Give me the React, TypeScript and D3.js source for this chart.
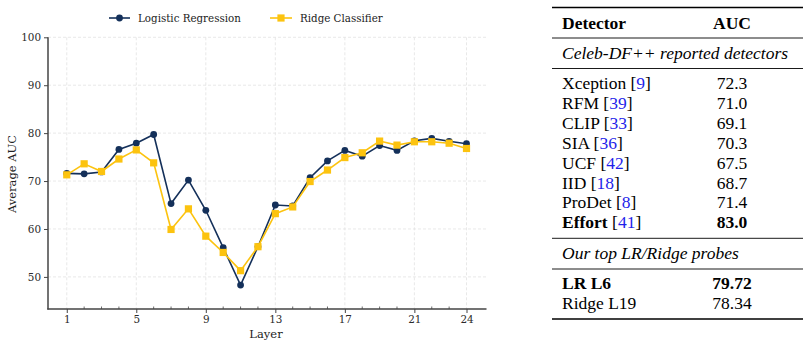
import React, { useEffect, useRef } from "react";
import * as d3 from "d3";

const layers = d3.range(1, 25);
const lrValues = [71.6, 71.5, 71.9, 76.6, 77.9, 79.72, 65.3, 70.2, 63.9, 56.1, 48.3, 56.3, 65.0, 64.8, 70.7, 74.2, 76.4, 75.2, 77.4, 76.4, 78.4, 78.9, 78.3, 77.8];
const ridgeValues = [71.3, 73.6, 72.0, 74.6, 76.5, 73.8, 59.9, 64.2, 58.5, 55.1, 51.3, 56.3, 63.2, 64.6, 69.9, 72.3, 74.9, 75.9, 78.34, 77.5, 78.2, 78.2, 77.9, 76.8];
const xTicks = [1, 5, 9, 13, 17, 21, 24];
const yTicks = [50, 60, 70, 80, 90, 100];
const seriesNames = ["Logistic Regression", "Ridge Classifier"];

const detectorNames = ["Xception", "RFM", "CLIP", "SIA", "UCF", "IID", "ProDet", "Effort"];
const detectorCites = ["9", "39", "33", "36", "42", "18", "8", "41"];
const detectorAUC = ["72.3", "71.0", "69.1", "70.3", "67.5", "68.7", "71.4", "83.0"];
const detectorBold = [false, false, false, false, false, false, false, true];
const probeNames = ["LR L6", "Ridge L19"];
const probeAUC = ["79.72", "78.34"];
const probeBold = [true, false];

const NAVY = "#14305a";
const GOLD = "#fcc30f";
const AXIS = "#444";
const CHART_FONT = "DejaVu Serif";
const TABLE_FONT = "Liberation Serif";

export default function App() {
  const x = d3.scaleLinear().domain([-0.08, 25.15]).range([48, 486.5]);
  const y = d3.scaleLinear().domain([43.3, 100]).range([309, 37.3]);
  const line = d3
    .line<number>()
    .x((_, i) => x(layers[i]))
    .y((d) => y(d));
  const xAxisRef = useRef<SVGGElement>(null);
  const yAxisRef = useRef<SVGGElement>(null);

  useEffect(() => {
    if (xAxisRef.current) {
      const g = d3.select(xAxisRef.current);
      g.selectAll("*").remove();
      g.call(
        d3
          .axisBottom(x)
          .tickValues(xTicks)
          .tickSize(4)
          .tickPadding(3)
          .tickFormat((d) => String(d))
      );
      g.select(".domain").remove();
      g.selectAll(".tick line").attr("stroke", AXIS).attr("stroke-width", 1);
      g.selectAll(".tick text")
        .attr("font-family", CHART_FONT)
        .attr("font-size", 10.4)
        .attr("fill", "#2a2a2a");
    }
    if (yAxisRef.current) {
      const g = d3.select(yAxisRef.current);
      g.selectAll("*").remove();
      g.call(d3.axisLeft(y).tickValues(yTicks).tickSize(4).tickPadding(3));
      g.select(".domain").remove();
      g.selectAll(".tick line").attr("stroke", AXIS).attr("stroke-width", 1);
      g.selectAll(".tick text")
        .attr("font-family", CHART_FONT)
        .attr("font-size", 10.4)
        .attr("fill", "#2a2a2a");
    }
  }, []);

  const tableLeft = 552;
  const tableRight = 803;
  const textX = 562;
  const numX = 732;
  const fs = 17.5;
  const rowY0 = 83;
  const rowStep = 19.9;

  return (
    <svg
      width={809}
      height={347}
      style={{ position: "fixed", left: 0, top: 0, background: "#fff" }}
    >
      <g>
        {yTicks.map((t) => (
          <line key={"gy" + t} x1={48} x2={486.5} y1={y(t)} y2={y(t)} stroke="#e2e2e2" strokeWidth={0.8} strokeDasharray="3,2" />
        ))}
        {xTicks.map((t) => (
          <line key={"gx" + t} x1={x(t)} x2={x(t)} y1={y(100)} y2={309} stroke="#e2e2e2" strokeWidth={0.8} strokeDasharray="3,2" />
        ))}
      </g>
      <line x1={48} x2={48} y1={y(100)} y2={309.5} stroke={AXIS} strokeWidth={1.5} />
      <line x1={47.3} x2={486.5} y1={309} y2={309} stroke={AXIS} strokeWidth={1.5} />
      <g ref={yAxisRef} transform="translate(48,0)" />
      <g ref={xAxisRef} transform="translate(0,309)" />
      {layers
        .filter((l) => !xTicks.includes(l))
        .map((l) => (
          <line key={"mt" + l} x1={x(l)} x2={x(l)} y1={309} y2={306.5} stroke={AXIS} strokeWidth={0.8} />
        ))}
      <text x={266} y={338} textAnchor="middle" fontFamily={CHART_FONT} fontSize={11.5} fill="#222">
        Layer
      </text>
      <text
        transform={`translate(16,174) rotate(-90)`}
        textAnchor="middle"
        fontFamily={CHART_FONT}
        fontSize={11.5}
        fill="#222"
      >
        Average AUC
      </text>

      <path d={line(lrValues) || ""} fill="none" stroke={NAVY} strokeWidth={1.6} />
      {lrValues.map((v, i) => (
        <circle key={"lm" + i} cx={x(layers[i])} cy={y(v)} r={3.4} fill={NAVY} />
      ))}
      <path d={line(ridgeValues) || ""} fill="none" stroke={GOLD} strokeWidth={1.6} />
      {ridgeValues.map((v, i) => (
        <rect key={"rm" + i} x={x(layers[i]) - 3.6} y={y(v) - 3.6} width={7.2} height={7.2} fill={GOLD} />
      ))}

      <g>
        <line x1={109} x2={130} y1={18} y2={18} stroke={NAVY} strokeWidth={1.6} />
        <circle cx={119.5} cy={18} r={3.4} fill={NAVY} />
        <text x={138} y={21.5} fontFamily={CHART_FONT} fontSize={10.3} fill="#222">
          {seriesNames[0]}
        </text>
        <line x1={270} x2={292} y1={18} y2={18} stroke={GOLD} strokeWidth={1.6} />
        <rect x={277.4} y={14.4} width={7.2} height={7.2} fill={GOLD} />
        <text x={300} y={21.5} fontFamily={CHART_FONT} fontSize={10.3} fill="#222">
          {seriesNames[1]}
        </text>
      </g>

      <g fontFamily={TABLE_FONT} fontSize={fs} fill="#000">
        <line x1={tableLeft} x2={tableRight} y1={7.5} y2={7.5} stroke="#000" strokeWidth={1.4} />
        <text x={textX} y={28.5} fontWeight="bold">Detector</text>
        <text x={numX} y={28.5} fontWeight="bold" textAnchor="middle">AUC</text>
        <line x1={tableLeft} x2={tableRight} y1={38} y2={38} stroke="#000" strokeWidth={0.9} />
        <text x={textX} y={59} fontStyle="italic">Celeb-DF++ reported detectors</text>
        <line x1={tableLeft} x2={tableRight} y1={68.5} y2={68.5} stroke="#000" strokeWidth={0.9} />
        {detectorNames.map((n, i) => (
          <g key={"dr" + i} fontWeight={detectorBold[i] ? "bold" : "normal"}>
            <text x={textX} y={rowY0 + i * rowStep + 6}>
              {n}{" "}
              <tspan fontWeight="normal">[</tspan>
              <tspan fontWeight="normal" fill="#1f1fea">{detectorCites[i]}</tspan>
              <tspan fontWeight="normal">]</tspan>
            </text>
            <text x={numX} y={rowY0 + i * rowStep + 6} textAnchor="middle">
              {detectorAUC[i]}
            </text>
          </g>
        ))}
        <line x1={tableLeft} x2={tableRight} y1={238.3} y2={238.3} stroke="#000" strokeWidth={0.9} />
        <text x={textX} y={259} fontStyle="italic">Our top LR/Ridge probes</text>
        <line x1={tableLeft} x2={tableRight} y1={269} y2={269} stroke="#000" strokeWidth={0.9} />
        {probeNames.map((n, i) => (
          <g key={"pr" + i} fontWeight={probeBold[i] ? "bold" : "normal"}>
            <text x={textX} y={283.3 + i * 20 + 6}>{n}</text>
            <text x={numX} y={283.3 + i * 20 + 6} textAnchor="middle">{probeAUC[i]}</text>
          </g>
        ))}
        <line x1={tableLeft} x2={tableRight} y1={319} y2={319} stroke="#000" strokeWidth={1.4} />
      </g>
    </svg>
  );
}
